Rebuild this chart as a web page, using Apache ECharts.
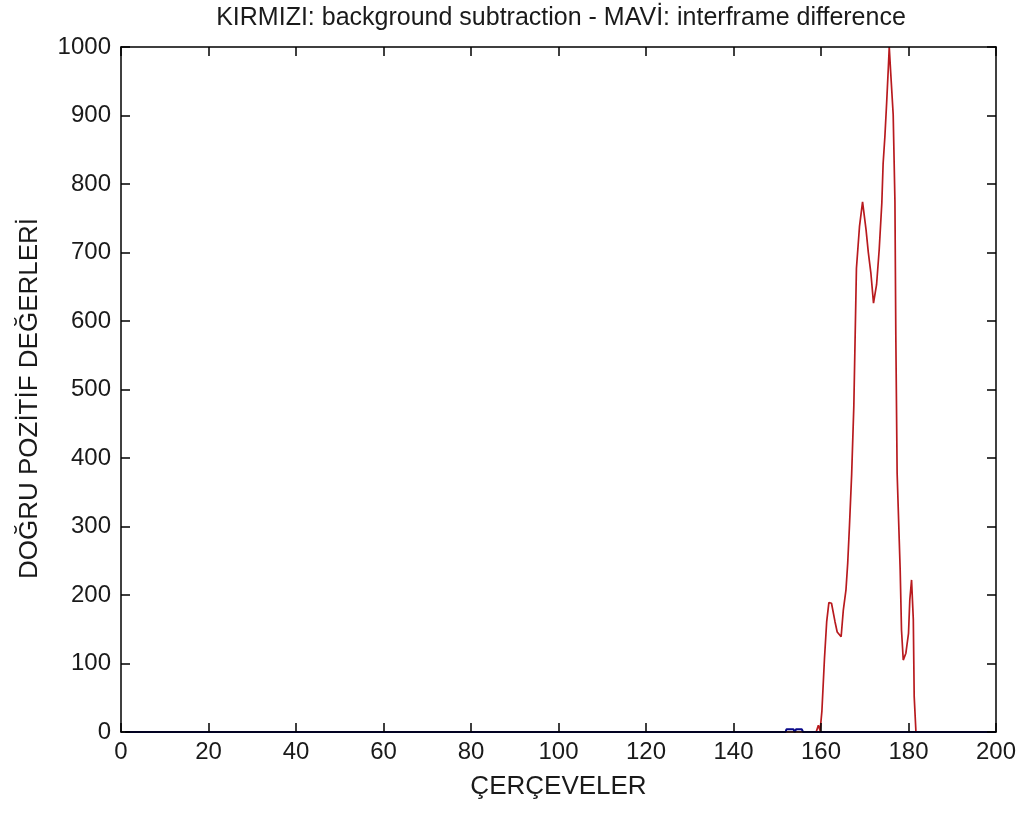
<!DOCTYPE html>
<html>
<head>
<meta charset="utf-8">
<script src="https://cdn.jsdelivr.net/npm/echarts@6/dist/echarts.min.js"></script>
<style>
html,body{margin:0;padding:0;background:#fff;}
#chart{width:1027px;height:814px;}
</style>
</head>
<body>
<div id="chart"></div>
<script>
// ---- data ----
const titleText = 'KIRMIZI: background subtraction - MAVİ: interframe difference';
const xName = 'ÇERÇEVELER';
const yName = 'DOĞRU POZİTİF DEĞERLERİ';

// red: background subtraction (frame, value)
const redFrames = [1, 158.9, 159.4, 159.8, 160.2, 160.8, 161.3, 161.8, 162.4, 163.2, 163.7, 164.6, 165.1, 165.7, 166.1, 166.5, 167.0, 167.5, 168.1, 168.8, 169.5, 170.3, 170.8, 171.4, 172.0, 172.7, 173.3, 173.9, 174.2, 174.6, 175.0, 175.4, 175.6, 175.9, 176.5, 176.9, 177.1, 177.4, 178.1, 178.4, 178.8, 179.4, 180.0, 180.3, 180.7, 181.1, 181.3, 181.7];
const redValues = [0, 0, 10, 2, 30, 108, 161, 189, 188, 161, 146, 139, 178, 207, 246, 300, 375, 475, 677, 738, 774, 733, 701, 670, 626, 653, 704, 772, 830, 869, 918, 971, 1000, 966, 901, 774, 580, 378, 236, 149, 105, 115, 144, 193, 222, 164, 52, 0];

// blue: interframe difference (frame, value)
const blueFrames = [1, 151.9, 152.1, 153.7, 154.0, 154.3, 155.6, 155.9, 200];
const blueValues = [0, 0, 4, 4, 0, 4, 4, 0, 0];

const xTicks = {min: 0, max: 200, interval: 20};
const yTicks = {min: 0, max: 1000, interval: 100};

const redData = redFrames.map((f, i) => [f, redValues[i]]);
const blueData = blueFrames.map((f, i) => [f, blueValues[i]]);

const FONT = 'Liberation Sans';
const chart = echarts.init(document.getElementById('chart'));
const axisLine = {show: true, onZero: false, lineStyle: {color: '#000', width: 1.5}};
const tick = {show: true, inside: true, length: 9, lineStyle: {color: '#000', width: 1.5}};
const plain = v => String(v);
chart.setOption({
  animation: false,
  backgroundColor: '#fff',
  title: {
    text: titleText, left: 556, textAlign: 'center', top: 1,
    textStyle: {fontFamily: FONT, fontWeight: 'normal', fontSize: 25, color: '#1a1a1a'}
  },
  grid: {left: 121, right: 31, top: 47, bottom: 82, containLabel: false},
  xAxis: [{
    type: 'value', min: xTicks.min, max: xTicks.max, interval: xTicks.interval,
    position: 'bottom', z: 5,
    axisLine, axisTick: tick, splitLine: {show: false},
    axisLabel: {fontFamily: FONT, fontSize: 24, color: '#1a1a1a', margin: 8, formatter: plain},
    name: xName, nameLocation: 'middle', nameGap: 42,
    nameTextStyle: {fontFamily: FONT, fontSize: 26, color: '#1a1a1a'}
  }, {
    type: 'value', min: xTicks.min, max: xTicks.max, interval: xTicks.interval,
    position: 'top', z: 5,
    axisLine, axisTick: tick, splitLine: {show: false}, axisLabel: {show: false}
  }],
  yAxis: [{
    type: 'value', min: yTicks.min, max: yTicks.max, interval: yTicks.interval,
    position: 'left', z: 5,
    axisLine, axisTick: tick, splitLine: {show: false},
    axisLabel: {fontFamily: FONT, fontSize: 24, color: '#1a1a1a', margin: 10, formatter: plain},
    name: yName, nameLocation: 'middle', nameGap: 78, nameRotate: 90,
    nameTextStyle: {fontFamily: FONT, fontSize: 26, color: '#1a1a1a', padding: [0, 18, 0, 0]}
  }, {
    type: 'value', min: yTicks.min, max: yTicks.max, interval: yTicks.interval,
    position: 'right', z: 5,
    axisLine, axisTick: tick, splitLine: {show: false}, axisLabel: {show: false}
  }],
  series: [{
    type: 'line', data: redData, showSymbol: false, z: 2,
    lineStyle: {color: '#b81a1e', width: 1.7}
  }, {
    type: 'line', data: blueData, showSymbol: false, z: 2,
    lineStyle: {color: '#0a0a8a', width: 2}
  }]
});
</script>
</body>
</html>
